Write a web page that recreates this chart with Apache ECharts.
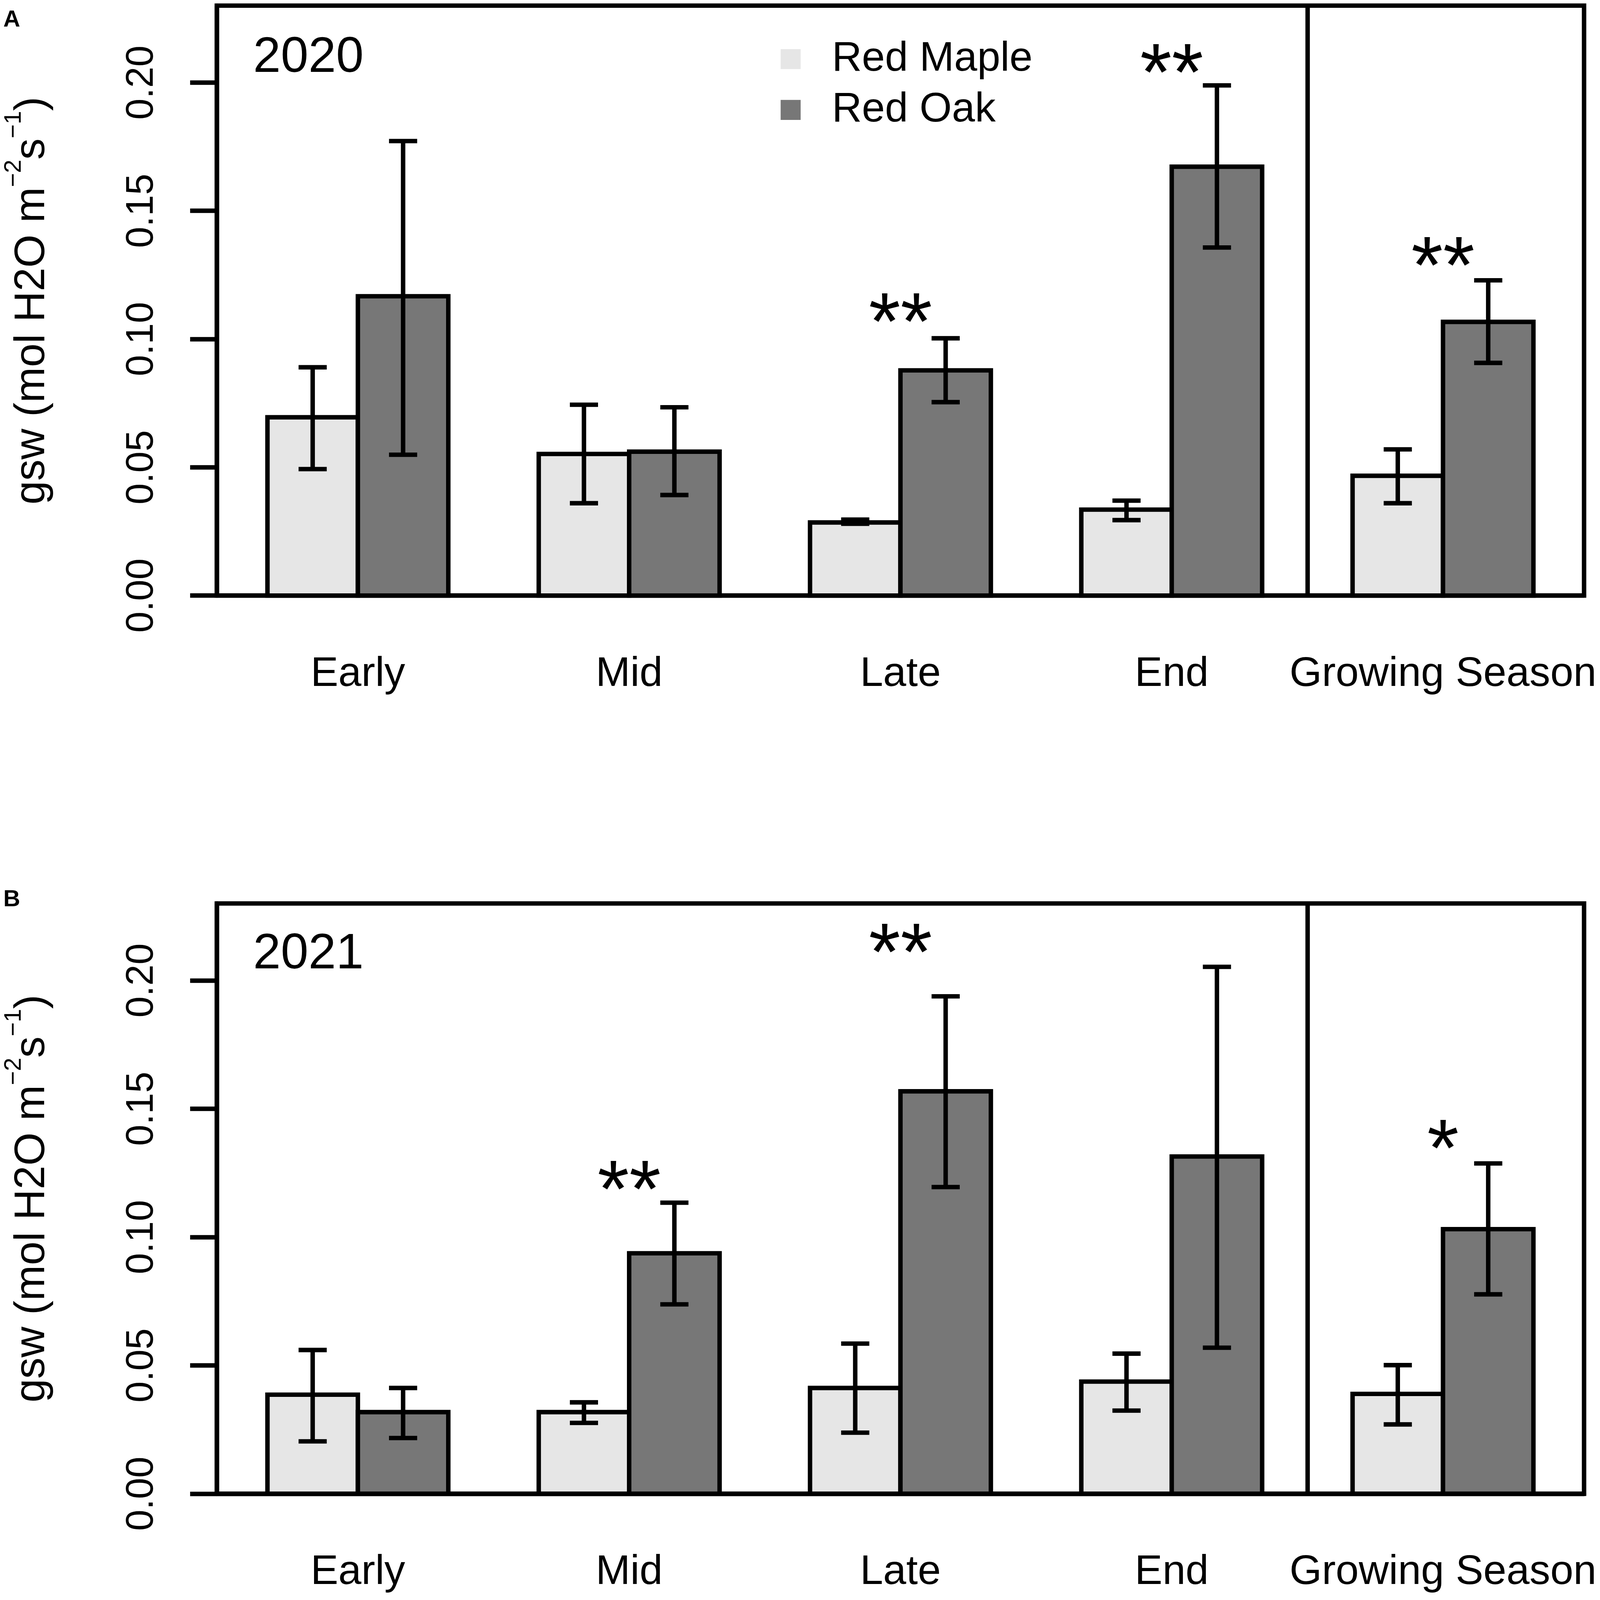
<!DOCTYPE html>
<html lang="en" style="height: 100%">
<head>
  <meta charset="utf-8">
</head>
<body style="height: 100%; margin: 0; background: #fff">
  <div id="container" style="height: 100%"></div>

  <script type="text/javascript" src="https://fastly.jsdelivr.net/npm/echarts@6/dist/echarts.min.js"></script>

  <script type="text/javascript">
    var categories = ['Early', 'Mid', 'Late', 'End', 'Growing Season'];
    var yTicks = [0, 0.05, 0.10, 0.15, 0.20];

    // 2020 (panel A): means and error bar ends
    var maple2020 = [0.0695, 0.0552, 0.0285, 0.0335, 0.0467];
    var maple2020Lo = [0.0493, 0.0360, 0.0280, 0.0294, 0.0360];
    var maple2020Hi = [0.0890, 0.0744, 0.0296, 0.0370, 0.0570];
    var oak2020 = [0.1167, 0.0561, 0.0878, 0.1672, 0.1067];
    var oak2020Lo = [0.0549, 0.0392, 0.0754, 0.1357, 0.0907];
    var oak2020Hi = [0.1772, 0.0734, 0.1003, 0.1989, 0.1229];
    var sig2020 = ['', '', '**', '**', '**'];
    var sig2020Y = [null, null, 0.1103, 0.2074, 0.1323];

    // 2021 (panel B)
    var maple2021 = [0.0386, 0.0318, 0.0412, 0.0437, 0.0389];
    var maple2021Lo = [0.0204, 0.0276, 0.0238, 0.0324, 0.0270];
    var maple2021Hi = [0.0560, 0.0356, 0.0585, 0.0546, 0.0501];
    var oak2021 = [0.0318, 0.0937, 0.1568, 0.1314, 0.1031];
    var oak2021Lo = [0.0217, 0.0738, 0.1195, 0.0569, 0.0777];
    var oak2021Hi = [0.0412, 0.1134, 0.1938, 0.2053, 0.1287];
    var sig2021 = ['', '**', '**', '', '*'];
    var sig2021Y = [null, 0.1221, 0.2145, null, 0.1381];

    var FONT = "'Liberation Sans', Arial, Helvetica, sans-serif";
    var MAPLE_COLOR = '#e6e6e6';
    var OAK_COLOR = '#777777';

    var dom = document.getElementById('container');
    var myChart = echarts.init(dom, null, { renderer: 'canvas' });

    // layout was measured on the 4317 x 4261 figure; scale it to whatever the container really is
    var SX = myChart.getWidth() / 4317;
    var SY = myChart.getHeight() / 4261;
    var S = Math.min(SX, SY);
    function px(v) { return v * SX; }
    function py(v) { return v * SY; }
    function ps(v) { return v * S; }

    var LW = ps(12);

    // barplot(beside = TRUE) layout: each group is 2 bars + 1 gap, so group i is centred on 3i + 2
    function groupCenter(i) {
      return 3 * i + 2;
    }

    function barData(vals, side) {
      return vals.map(function (v, i) {
        return [groupCenter(i) + side * 0.5, v];
      });
    }

    function errData(lo, hi, side) {
      return lo.map(function (l, i) {
        return [groupCenter(i) + side * 0.5, l, hi[i]];
      });
    }

    function sigData(labels, ys) {
      var out = [];
      labels.forEach(function (s, i) {
        if (s) out.push([groupCenter(i), ys[i], s]);
      });
      return out;
    }

    function renderBar(params, api) {
      var x = api.value(0);
      var p0 = api.coord([x - 0.5, api.value(1)]);
      var p1 = api.coord([x + 0.5, 0]);
      return {
        type: 'rect',
        shape: { x: p0[0], y: p0[1], width: p1[0] - p0[0], height: p1[1] - p0[1] },
        style: { fill: api.visual('color'), stroke: '#000', lineWidth: LW }
      };
    }

    function renderErr(params, api) {
      var x = api.value(0);
      var lo = api.coord([x, api.value(1)]);
      var hi = api.coord([x, api.value(2)]);
      var cap = ps(38);
      var st = { stroke: '#000', lineWidth: LW };
      return {
        type: 'group',
        children: [
          { type: 'line', shape: { x1: lo[0], y1: lo[1], x2: hi[0], y2: hi[1] }, style: st },
          { type: 'line', shape: { x1: hi[0] - cap, y1: hi[1], x2: hi[0] + cap, y2: hi[1] }, style: st },
          { type: 'line', shape: { x1: lo[0] - cap, y1: lo[1], x2: lo[0] + cap, y2: lo[1] }, style: st }
        ]
      };
    }

    var sigText = {};

    function renderSig(params, api) {
      var p = api.coord([api.value(0), api.value(1)]);
      return {
        type: 'text',
        x: p[0],
        y: p[1] + ps(38),
        style: {
          text: sigText[params.seriesIndex][params.dataIndex],
          fontSize: ps(220),
          fontFamily: FONT,
          fill: '#000',
          align: 'center',
          verticalAlign: 'middle'
        }
      };
    }

    function panelSeries(g, maple, mapleLo, mapleHi, oak, oakLo, oakHi, sig, sigY) {
      var sd = sigData(sig, sigY);
      var list = [
        {
          name: 'Red Maple', type: 'custom', xAxisIndex: g, yAxisIndex: g,
          itemStyle: { color: MAPLE_COLOR },
          renderItem: renderBar, encode: { x: 0, y: 1 },
          data: barData(maple, -1),
          markLine: {
            silent: true, symbol: 'none', label: { show: false },
            lineStyle: { type: 'solid', color: '#000', width: LW },
            data: [{ xAxis: groupCenter(3) + 1.5 }]
          }
        },
        {
          name: 'Red Oak', type: 'custom', xAxisIndex: g, yAxisIndex: g,
          itemStyle: { color: OAK_COLOR },
          renderItem: renderBar, encode: { x: 0, y: 1 },
          data: barData(oak, 1)
        },
        {
          name: 'err maple ' + g, type: 'custom', xAxisIndex: g, yAxisIndex: g, z: 5,
          renderItem: renderErr, encode: { x: 0, y: [1, 2] },
          data: errData(mapleLo, mapleHi, -1)
        },
        {
          name: 'err oak ' + g, type: 'custom', xAxisIndex: g, yAxisIndex: g, z: 5,
          renderItem: renderErr, encode: { x: 0, y: [1, 2] },
          data: errData(oakLo, oakHi, 1)
        },
        {
          name: 'sig ' + g, type: 'custom', xAxisIndex: g, yAxisIndex: g, z: 6,
          renderItem: renderSig, encode: { x: 0, y: 1 },
          data: sd.map(function (d) { return [d[0], d[1]]; })
        }
      ];
      return { list: list, sigLabels: sd.map(function (d) { return d[2]; }) };
    }

    var pA = panelSeries(0, maple2020, maple2020Lo, maple2020Hi, oak2020, oak2020Lo, oak2020Hi, sig2020, sig2020Y);
    var pB = panelSeries(1, maple2021, maple2021Lo, maple2021Hi, oak2021, oak2021Lo, oak2021Hi, sig2021, sig2021Y);
    sigText[4] = pA.sigLabels;
    sigText[9] = pB.sigLabels;

    var groupTicks = categories.map(function (c, i) { return groupCenter(i); });

    function xAxis(g) {
      return {
        gridIndex: g, type: 'value', min: 0.44, max: 15.56,
        axisLine: { show: true, onZero: false, lineStyle: { color: '#000', width: LW } },
        axisTick: { show: false },
        splitLine: { show: false },
        axisLabel: {
          customValues: groupTicks,
          formatter: function (v) { return categories[Math.round((v - 2) / 3)]; },
          margin: py(155), fontSize: ps(112), fontFamily: FONT, color: '#000'
        }
      };
    }

    function yAxis(g) {
      return {
        gridIndex: g, type: 'value', min: 0, max: 0.23,
        axisLine: { show: true, lineStyle: { color: '#000', width: LW } },
        axisTick: { show: true, length: px(72), customValues: yTicks, lineStyle: { color: '#000', width: LW } },
        splitLine: { show: false },
        axisLabel: {
          customValues: yTicks, rotate: 90, margin: px(150),
          fontSize: ps(103), fontFamily: FONT, color: '#000',
          formatter: function (v) { return v.toFixed(2); }
        },
        name: '{t|gsw (mol H2O m}{sup|\u22122}{t|s}{sup|\u22121}{t|)}',
        nameLocation: 'middle',
        nameGap: px(440),
        nameTextStyle: {
          rich: {
            t: { fontSize: ps(115), fontFamily: FONT, color: '#000', lineHeight: ps(140), verticalAlign: 'bottom' },
            sup: { fontSize: ps(65), fontFamily: FONT, color: '#000', lineHeight: ps(65), verticalAlign: 'top' }
          }
        }
      };
    }

    function grid(top, height) {
      return {
        left: px(585), top: py(top), width: px(3689), height: py(height),
        show: true, borderColor: '#000', borderWidth: LW, backgroundColor: 'transparent',
        containLabel: false, outerBoundsMode: 'none'
      };
    }

    function label(text, left, top, size, weight) {
      return {
        type: 'text', left: px(left), top: py(top),
        style: { text: text, fontSize: ps(size), fontWeight: weight || 'normal', fontFamily: FONT, fill: '#000' }
      };
    }

    var option = {
      backgroundColor: '#fff',
      animation: false,
      grid: [grid(15, 1571), grid(2406, 1572)],
      xAxis: [xAxis(0), xAxis(1)],
      yAxis: [yAxis(0), yAxis(1)],
      legend: {
        data: ['Red Maple', 'Red Oak'],
        orient: 'vertical', left: px(2101), top: py(97),
        itemWidth: ps(54), itemHeight: ps(54), itemGap: py(25), icon: 'rect',
        selectedMode: false,
        textStyle: { fontSize: ps(112), fontFamily: FONT, color: '#000', padding: [0, 0, 0, px(79)] }
      },
      graphic: [
        label('A', 9, 22, 63, 'bold'),
        label('B', 9, 2365, 63, 'bold'),
        label('2020', 683, 89, 134),
        label('2021', 683, 2476, 134)
      ],
      series: pA.list.concat(pB.list)
    };

    myChart.setOption(option);

    window.addEventListener('resize', myChart.resize);
  </script>
</body>
</html>
